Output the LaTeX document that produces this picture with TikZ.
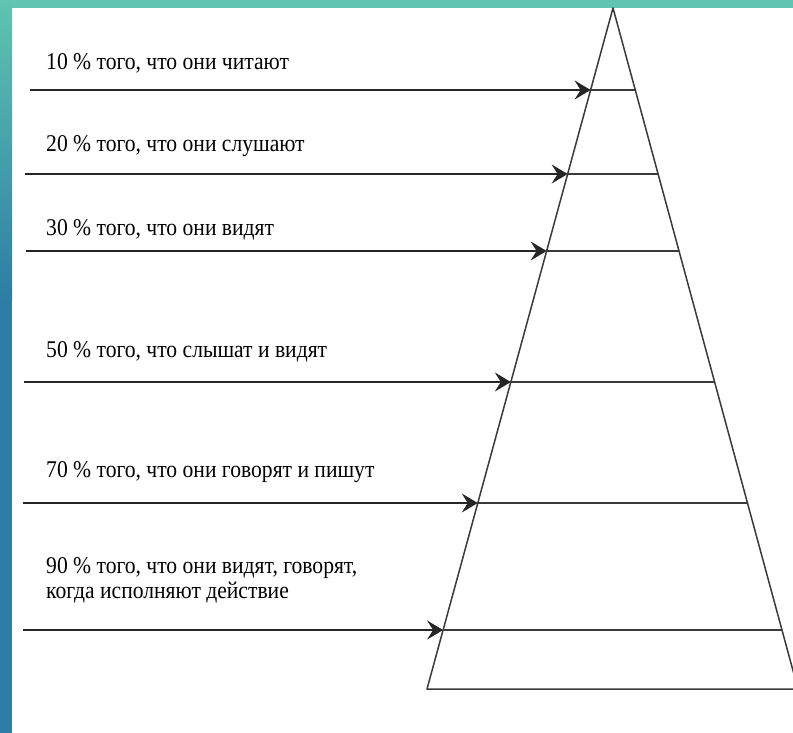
\documentclass[tikz,border=0pt]{standalone}
\usepackage{fontspec}
\setmainfont{Liberation Serif}[FakeStretch=0.9]
\usetikzlibrary{arrows.meta,calc}
\definecolor{seatop}{RGB}{96,196,176}
\definecolor{seablue}{RGB}{45,125,165}
\definecolor{edgegray}{RGB}{58,58,58}
\tikzset{
  side/.style={edgegray, line width=1.5pt, line join=round},
  tier/.style={edgegray, line width=1.6pt},
  pointer/.style={black!85, line width=1.6pt, -{Stealth[length=16pt,width=19pt,inset=6pt]}},
  caption/.style={anchor=base west, inner sep=0pt, font=\fontsize{24}{25}\selectfont, align=left},
}
\begin{document}
\begin{tikzpicture}[x=1pt, y=-1pt]
    \useasboundingbox (0,0) rectangle (793,733);
    % backdrop
    \fill[white] (0,0) rectangle (793,733);
    \fill[seatop] (0,0) rectangle (793,8);
    \shade[top color=seatop, bottom color=seablue] (0,0) rectangle (12,300);
    \fill[seablue] (0,300) rectangle (12,733);
    % pyramid
    \coordinate (apex) at (613,8);
    \coordinate (bl) at (427,689);
    \coordinate (br) at (798,689);
    \draw[side] (apex) -- (bl) -- (br) -- cycle;
    \coordinate (l1) at ($(apex)!0.1204!(bl)$);
    \coordinate (r1) at ($(apex)!0.1204!(br)$);
    \coordinate (l2) at ($(apex)!0.2438!(bl)$);
    \coordinate (r2) at ($(apex)!0.2438!(br)$);
    \coordinate (l3) at ($(apex)!0.3568!(bl)$);
    \coordinate (r3) at ($(apex)!0.3568!(br)$);
    \coordinate (l4) at ($(apex)!0.5492!(bl)$);
    \coordinate (r4) at ($(apex)!0.5492!(br)$);
    \coordinate (l5) at ($(apex)!0.7269!(bl)$);
    \coordinate (r5) at ($(apex)!0.7269!(br)$);
    \coordinate (l6) at ($(apex)!0.9134!(bl)$);
    \coordinate (r6) at ($(apex)!0.9134!(br)$);
    \draw[tier] (l1) -- (r1);
    \draw[tier] (l2) -- (r2);
    \draw[tier] (l3) -- (r3);
    \draw[tier] (l4) -- (r4);
    \draw[tier] (l5) -- (r5);
    \draw[tier] (l6) -- (r6);
    % arrows from the left
    \coordinate (s1) at (30,90);
    \coordinate (s2) at (25,174);
    \coordinate (s3) at (26,251);
    \coordinate (s4) at (24,382);
    \coordinate (s5) at (23,503);
    \coordinate (s6) at (23,630);
    \draw[pointer] (s1) -- (l1);
    \draw[pointer] (s2) -- (l2);
    \draw[pointer] (s3) -- (l3);
    \draw[pointer] (s4) -- (l4);
    \draw[pointer] (s5) -- (l5);
    \draw[pointer] (s6) -- (l6);
    % captions
    \node[caption] (t1) at (46,70) {10 \% того, что они читают};
    \node[caption] (t2) at (46,152) {20 \% того, что они слушают};
    \node[caption] (t3) at (46,235) {30 \% того, что они видят};
    \node[caption] (t4) at (46,357) {50 \% того, что слышат и видят};
    \node[caption] (t5) at (46,477) {70 \% того, что они говорят и пишут};
    \node[caption] (t6) at (46,598) {90 \% того, что они видят, говорят,\\когда исполняют действие};
\end{tikzpicture}
\end{document}
